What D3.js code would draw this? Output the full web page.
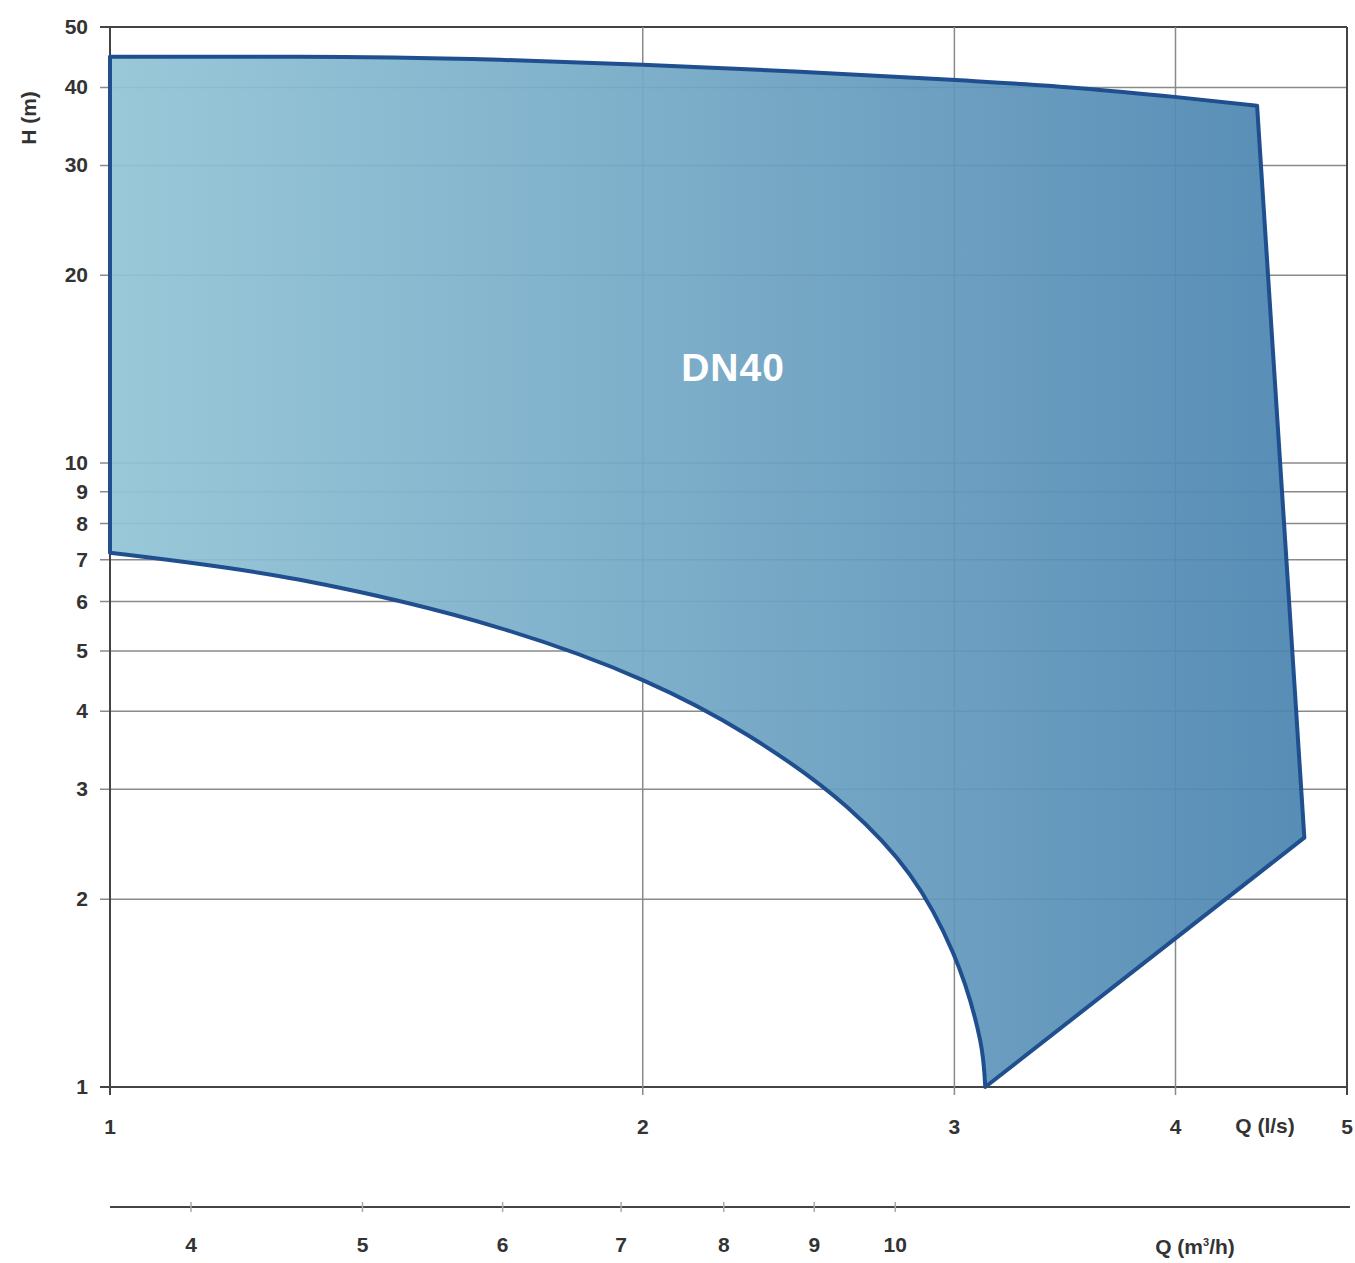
<!DOCTYPE html>
<html><head><meta charset="utf-8">
<script src="https://cdn.jsdelivr.net/npm/d3@7"></script>
<style>body{margin:0;background:#fff}svg text{font-family:"Liberation Sans",Arial,sans-serif;font-weight:bold;fill:#333}</style>
</head><body><svg id="c" width="1355" height="1263"></svg>
<script>
// Data (Q in l/s, H in m)
const topCurveQ = [1.00, 1.28, 1.661, 2.00, 2.454, 3.006, 3.532, 4.007, 4.448];
const topCurveH = [44.8, 44.8, 44.3, 43.5, 42.4, 41.1, 39.9, 38.6, 37.4];
const rightEdgeQ = [4.448, 4.73, 3.123];
const rightEdgeH = [37.4, 2.51, 1.0];
const bottomCurveQ = [3.123, 3.102, 2.995, 2.831, 2.609, 2.291, 2.000, 1.661, 1.280, 1.00];
const bottomCurveH = [1.0, 1.19, 1.64, 2.19, 2.81, 3.67, 4.49, 5.44, 6.50, 7.18];
const xTicks = [1, 2, 3, 4, 5];
const yTicks = [1, 2, 3, 4, 5, 6, 7, 8, 9, 10, 20, 30, 40, 50];
const m3hTicks = [4, 5, 6, 7, 8, 9, 10];
const areaLabel = "DN40";

const svg = d3.select("#c");
const x = d3.scaleLog().domain([1, 5]).range([110, 1347]);
const y = d3.scaleLog().domain([1, 50]).range([1087, 27]);
const xm = d3.scaleLog().domain([3.6, 18]).range([110, 1347]);

const defs = svg.append("defs");
const g = defs.append("linearGradient").attr("id", "gr").attr("gradientUnits", "userSpaceOnUse")
  .attr("x1", 110).attr("x2", 1305).attr("y1", 0).attr("y2", 0);
g.append("stop").attr("offset", "0%").attr("stop-color", "#92c4d6");
g.append("stop").attr("offset", "45%").attr("stop-color", "#74a9c6");
g.append("stop").attr("offset", "100%").attr("stop-color", "#4b84b0");

// grid
svg.append("g").selectAll("line").data(yTicks).join("line")
  .attr("x1", 100).attr("x2", 1347).attr("y1", d => y(d)).attr("y2", d => y(d))
  .attr("stroke", d => d === 50 || d === 1 ? "#444" : "#8a8a8a").attr("stroke-width", d => d === 50 || d === 1 ? 2 : 1.5);
svg.append("g").selectAll("line").data(xTicks).join("line")
  .attr("x1", d => x(d)).attr("x2", d => x(d)).attr("y1", 27).attr("y2", 1095)
  .attr("stroke", d => d === 1 || d === 5 ? "#444" : "#8a8a8a").attr("stroke-width", d => d === 1 || d === 5 ? 2 : 1.5);

// area
const topPts = topCurveQ.map((q, i) => [q, topCurveH[i]]);
const botPts = bottomCurveQ.map((q, i) => [q, bottomCurveH[i]]);
const topPath = d3.line().x(d => x(d[0])).y(d => y(d[1])).curve(d3.curveMonotoneX)(topPts);
const botPath = d3.line().x(d => x(d[0])).y(d => y(d[1])).curve(d3.curveCatmullRom.alpha(0.5))(botPts);
const fullPath = topPath + "L" + x(rightEdgeQ[1]) + "," + y(rightEdgeH[1]) + "L" + x(rightEdgeQ[2]) + "," + y(rightEdgeH[2])
  + botPath.replace(/^M/, "L") + "Z";
svg.append("path").attr("d", fullPath).attr("fill", "url(#gr)").attr("fill-opacity", 0.93)
  .attr("stroke", "#1f4f8e").attr("stroke-width", 4).attr("stroke-linejoin", "round");

// labels
svg.append("g").selectAll("text").data(yTicks).join("text")
  .attr("x", 88).attr("y", d => y(d) + 7).attr("text-anchor", "end").attr("font-size", 21).text(d => d);
svg.append("g").selectAll("text").data(xTicks).join("text")
  .attr("x", d => x(d)).attr("y", 1134).attr("text-anchor", "middle").attr("font-size", 21).text(d => d);
svg.append("text").attr("x", 1265).attr("y", 1133).attr("text-anchor", "middle").attr("font-size", 21).text("Q (l/s)");
svg.append("text").attr("transform", "translate(36,118) rotate(-90)").attr("text-anchor", "middle").attr("font-size", 21).text("H (m)");

// m3/h axis
svg.append("line").attr("x1", 110).attr("x2", 1350).attr("y1", 1207).attr("y2", 1207).attr("stroke", "#444").attr("stroke-width", 2);
svg.append("g").selectAll("line").data(m3hTicks).join("line")
  .attr("x1", d => xm(d)).attr("x2", d => xm(d)).attr("y1", 1202).attr("y2", 1212).attr("stroke", "#aaa").attr("stroke-width", 1.5);
svg.append("g").selectAll("text").data(m3hTicks).join("text")
  .attr("x", d => xm(d)).attr("y", 1252).attr("text-anchor", "middle").attr("font-size", 21).text(d => d);
const t = svg.append("text").attr("x", 1195).attr("y", 1254).attr("text-anchor", "middle").attr("font-size", 21);
t.append("tspan").text("Q (m");
t.append("tspan").attr("font-size", 11).attr("dy", -8).text("3");
t.append("tspan").attr("dy", 8).text("/h)");

svg.append("text").attr("x", 733).attr("y", 381).attr("text-anchor", "middle").attr("font-size", 39)
  .attr("letter-spacing", 1).style("fill", "#fff").text(areaLabel);
</script></body></html>
